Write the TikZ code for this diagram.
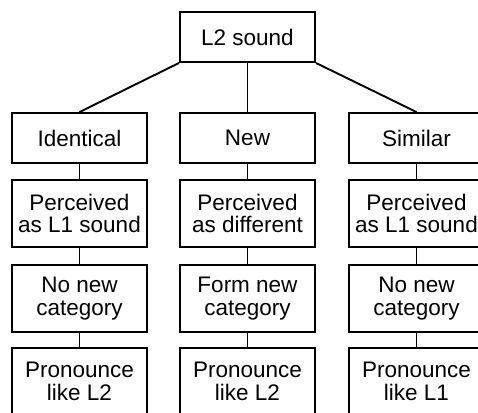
\documentclass[tikz,border=0pt]{standalone}
\usepackage{fontspec}
\setmainfont{Liberation Sans}
\usepackage{tikz}
\usetikzlibrary{positioning}

\begin{document}
\begin{tikzpicture}[x=1pt, y=-1pt, line width=1.9pt]
    % Styles
    \tikzstyle{box} = [draw, rectangle, minimum width=135pt, minimum height=50pt, inner sep=2pt, align=center, font=\fontsize{22.5}{22.5}\selectfont]
    \tikzstyle{tall} = [box, minimum height=67pt]

    % Frame of the picture (boxes run off the right and bottom edges)
    \useasboundingbox (0, 0) rectangle (478, 412);
    \clip (0, 0) rectangle (478, 412);

    % Root
    \node[box] (l2) at (247.5, 37) {L2 sound};

    % Row 1: kind of sound
    \node[box] (ident) at (79.5, 138) {Identical};
    \node[box] (new) at (247.5, 138) {New};
    \node[box] (simil) at (416.5, 138) {Similar};

    \draw (l2.south west) -- (ident.north);
    \draw (l2.south) -- (new.north);
    \draw (l2.south east) -- (simil.north);

    % Row 2: perception
    \node[tall] (perc1) at (79.5, 213.5) {Perceived\\as L1 sound};
    \node[tall] (perc2) at (247.5, 213.5) {Perceived\\as different};
    \node[tall] (perc3) at (416.5, 213.5) {Perceived\\as L1 sound};

    % Row 3: category
    \node[tall] (cat1) at (79.5, 298.5) {No new\\category};
    \node[tall] (cat2) at (247.5, 298.5) {Form new\\category};
    \node[tall] (cat3) at (416.5, 298.5) {No new\\category};

    % Row 4: pronunciation
    \node[tall] (pron1) at (79.5, 381.5) {Pronounce\\like L2};
    \node[tall] (pron2) at (247.5, 381.5) {Pronounce\\like L2};
    \node[tall] (pron3) at (416.5, 381.5) {Pronounce\\like L1};

    % Vertical links in each column
    \draw (ident) -- (perc1) -- (cat1) -- (pron1);
    \draw (new) -- (perc2) -- (cat2) -- (pron2);
    \draw (simil) -- (perc3) -- (cat3) -- (pron3);
\end{tikzpicture}
\end{document}
